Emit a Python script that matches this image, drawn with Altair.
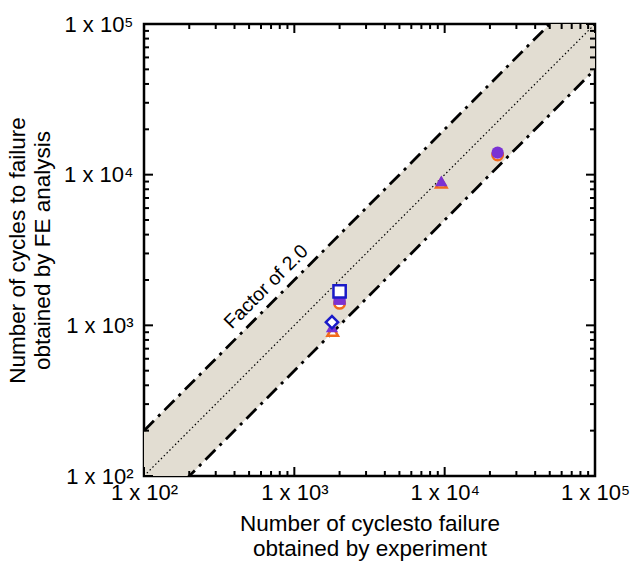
import altair as alt
import pandas as pd

# ---------------- data ----------------
orange_x = [2000, 1800, 9500, 22500]
orange_y = [1400, 915, 8800, 13500]
orange_shape = ["circle", "triangle-up", "triangle-up", "circle"]

purple_x = [2000, 1780, 9500, 22500]
purple_y = [1500, 975, 9100, 14000]
purple_shape = ["square", "triangle-up", "triangle-up", "circle"]

blue_x = [2000, 1780]
blue_y = [1680, 1050]
blue_shape = ["square", "diamond"]

band_x = [100, 100000]
band_lower = [50, 50000]      # factor 1/2
band_upper = [200, 200000]    # factor 2
center_y = [100, 100000]      # 1:1

major_ticks = [100, 1000, 10000, 100000]
tick_labels = ["1 x 10²", "1 x 10³", "1 x 10⁴", "1 x 10⁵"]
minor_mult = [2, 3, 4, 5, 6, 7, 8, 9]
minor_ticks = [d * m for d in [100, 1000, 10000] for m in minor_mult]

note_text = ["Factor of 2.0"]
note_x = [650]
note_y = [1800]

# ---------------- layout / style ----------------
W, H = 451, 452
FONT = "Liberation Sans"
ORANGE = "#f26a1b"
PURPLE = "#7a32d4"
BLUE = "#1a1ac8"
BAND = "#e2ddd2"

xs = alt.Scale(type="log", domain=[100, 100000], nice=False)
ys = alt.Scale(type="log", domain=[100, 100000], nice=False)

label_expr = " : ".join(
    f"datum.value == {v} ? '{t}'" for v, t in zip(major_ticks, tick_labels)
) + " : ''"

x_axis = alt.Axis(
    values=major_ticks, labelExpr=label_expr, ticks=False, domain=False, grid=False,
    labelFont=FONT, labelFontSize=22, labelColor="black", labelPadding=6,
    labelOverlap=False, labelBound=False, labelFlush=False,
    title=["Number of cyclesto failure", "obtained by experiment"],
    titleFont=FONT, titleFontSize=22.5, titleFontWeight="normal", titleColor="black",
    titleLineHeight=25, titlePadding=9,
)
y_axis = alt.Axis(
    values=major_ticks, labelExpr=label_expr, ticks=False, domain=False, grid=False,
    labelFont=FONT, labelFontSize=22, labelColor="black", labelPadding=11,
    labelOverlap=False, labelBound=False, labelFlush=False,
    title=["Number of cycles to failure", "obtained by FE analysis"],
    titleFont=FONT, titleFontSize=22.5, titleFontWeight="normal", titleColor="black",
    titleLineHeight=25, titlePadding=9,
)


def X(field):
    return alt.X(field, scale=xs, axis=x_axis)


def Y(field):
    return alt.Y(field, scale=ys, axis=y_axis)


band_df = pd.DataFrame({"x": band_x, "lo": band_lower, "hi": band_upper, "c": center_y})
lines_df = pd.DataFrame({
    "x": band_x + band_x,
    "y": band_lower + band_upper,
    "line": ["lo"] * len(band_x) + ["hi"] * len(band_x),
})

band = alt.Chart(band_df).mark_area(clip=True, color=BAND, opacity=1).encode(
    x=X("x:Q"), y=Y("lo:Q"), y2="hi:Q",
)
center = alt.Chart(band_df).mark_line(
    clip=True, color="black", strokeWidth=1.2, strokeDash=[1.5, 2.5]
).encode(x=X("x:Q"), y=Y("c:Q"))
factor_lines = alt.Chart(lines_df).mark_line(
    clip=True, color="black", strokeWidth=2.8, strokeDash=[14, 6, 3, 6]
).encode(x=X("x:Q"), y=Y("y:Q"), detail="line:N")

note = alt.Chart(pd.DataFrame({"x": note_x, "y": note_y, "t": note_text})).mark_text(
    angle=315, font=FONT, fontSize=19.5, color="black", align="center", baseline="middle"
).encode(x=X("x:Q"), y=Y("y:Q"), text="t:N")

shape_scale = alt.Scale(
    domain=["circle", "square", "triangle-up", "diamond"],
    range=["circle", "square", "triangle-up", "diamond"],
)


def pts(xv, yv, sv, color, filled, size):
    df = pd.DataFrame({"x": xv, "y": yv, "s": sv})
    if filled:
        mk = alt.Chart(df).mark_point(filled=True, color=color, size=size, opacity=1)
    else:
        mk = alt.Chart(df).mark_point(
            filled=False, stroke=color, fill="white", fillOpacity=1,
            size=size, strokeWidth=2.5, opacity=1,
        )
    return mk.encode(
        x=X("x:Q"), y=Y("y:Q"),
        shape=alt.Shape("s:N", scale=shape_scale, legend=None),
    )


orange_pts = pts(orange_x, orange_y, orange_shape, ORANGE, False, 110)
purple_pts = pts(purple_x, purple_y, purple_shape, PURPLE, True, 150)
blue_pts = pts(blue_x, blue_y, blue_shape, BLUE, False, 150)


def xticks(vals, length, top):
    df = pd.DataFrame({"v": vals})
    y0, y1 = (0, length) if top else (H, H - length)
    return alt.Chart(df).mark_rule(color="black", strokeWidth=2).encode(
        x=X("v:Q"), y=alt.value(y0), y2=alt.value(y1)
    )


def yticks(vals, length, right):
    df = pd.DataFrame({"v": vals})
    x0, x1 = (W, W - length) if right else (0, length)
    return alt.Chart(df).mark_rule(color="black", strokeWidth=2).encode(
        y=Y("v:Q"), x=alt.value(x0), x2=alt.value(x1)
    )


ticks = [
    xticks(major_ticks, 9, False), xticks(major_ticks, 9, True),
    xticks(minor_ticks, 5, False), xticks(minor_ticks, 5, True),
    yticks(major_ticks, 9, False), yticks(major_ticks, 9, True),
    yticks(minor_ticks, 5, False), yticks(minor_ticks, 5, True),
]

chart = alt.layer(
    band, center, factor_lines, note, orange_pts, purple_pts, blue_pts, *ticks
).properties(
    width=W, height=H,
    padding={"left": 144, "top": 24, "right": 35, "bottom": 92},
    autosize=alt.AutoSizeParams(type="none"),
    background="white",
).configure_view(stroke="black", strokeWidth=2.5)

chart.save("out.html", embed_options={"renderer": "svg", "actions": False})
